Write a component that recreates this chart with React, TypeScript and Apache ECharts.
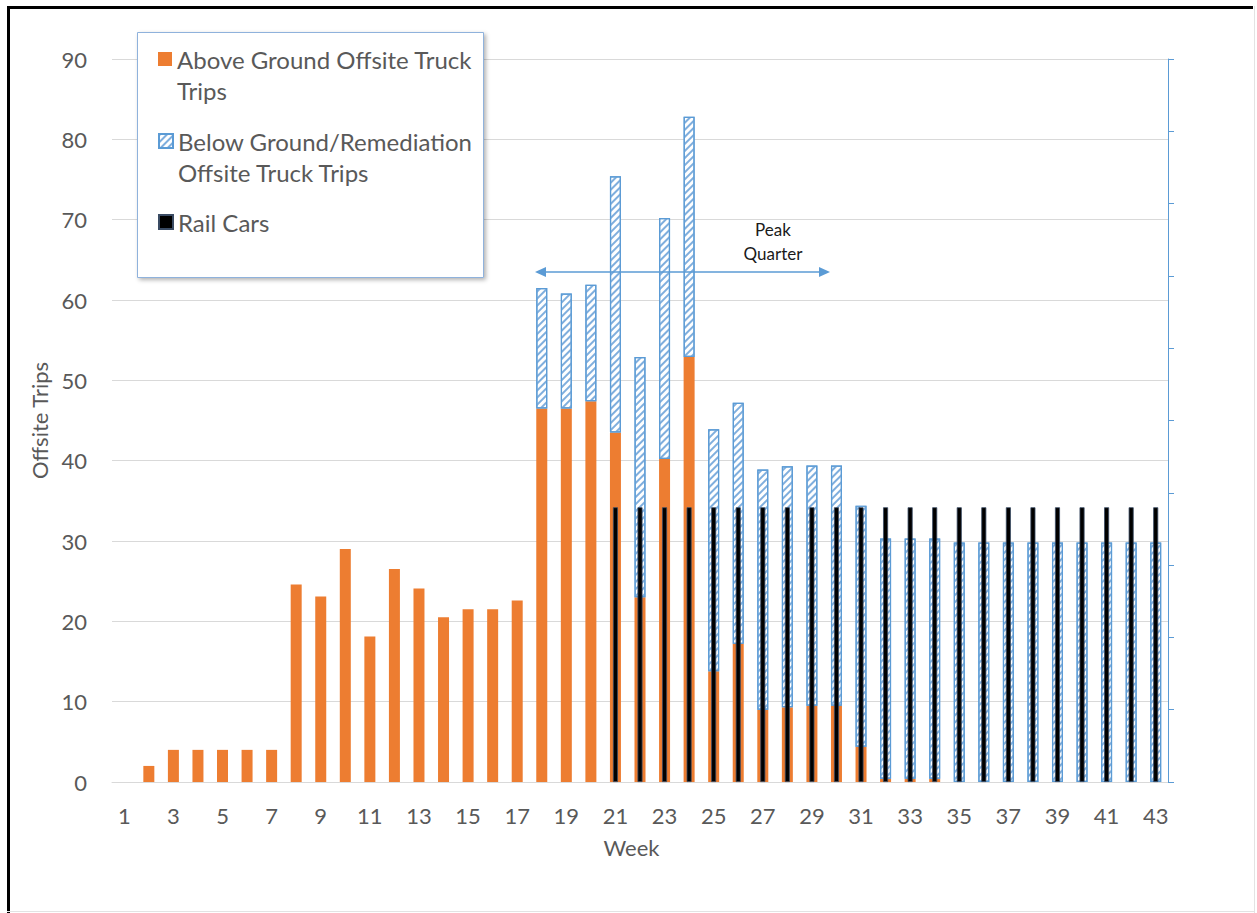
import React, { useEffect, useRef } from "react";
import * as echarts from "echarts";

// Week numbers along the category axis
const weeks = [
  "1", "2", "3", "4", "5", "6", "7", "8", "9", "10",
  "11", "12", "13", "14", "15", "16", "17", "18", "19", "20",
  "21", "22", "23", "24", "25", "26", "27", "28", "29", "30",
  "31", "32", "33", "34", "35", "36", "37", "38", "39", "40",
  "41", "42", "43",
];

// Above ground offsite truck trips per week (null = no bar)
const aboveGround = [
  null, 2, 4, 4, 4, 4, 4, 24.6, 23.1, 29.0,
  18.1, 26.5, 24.1, 20.5, 21.5, 21.5, 22.6, 46.5, 46.5, 47.4,
  43.5, 23.0, 40.2, 52.9, 13.8, 17.2, 9.0, 9.3, 9.5, 9.5,
  4.4, 0.4, 0.4, 0.4, null, null, null, null, null, null,
  null, null, null,
];

// Below ground / remediation offsite truck trips per week, stacked on top
const belowGround = [
  null, null, null, null, null, null, null, null, null, null,
  null, null, null, null, null, null, null, 15.0, 14.3, 14.5,
  31.9, 29.9, 30.0, 29.9, 30.1, 30.0, 29.9, 30.0, 29.9, 29.9,
  30.0, 29.9, 29.9, 29.9, 29.8, 29.8, 29.8, 29.8, 29.8, 29.8,
  29.8, 29.8, 29.8,
];

// Rail cars per week (secondary axis)
const railCars = [
  null, null, null, null, null, null, null, null, null, null,
  null, null, null, null, null, null, null, null, null, null,
  3.8, 3.8, 3.8, 3.8, 3.8, 3.8, 3.8, 3.8, 3.8, 3.8,
  3.8, 3.8, 3.8, 3.8, 3.8, 3.8, 3.8, 3.8, 3.8, 3.8,
  3.8, 3.8, 3.8,
];

const seriesNames = [
  "Above Ground Offsite Truck Trips",
  "Below Ground/Remediation Offsite Truck Trips",
  "Rail Cars",
];

// Legend text as it wraps inside the legend box
const legendLines = [
  ["Above Ground Offsite Truck", "Trips"],
  ["Below Ground/Remediation", "Offsite Truck Trips"],
  ["Rail Cars"],
];

const FONT = "Lato, 'Open Sans', sans-serif";
const GREY_TEXT = "#595959";
const ORANGE = "#ED7D31";
const BLUE = "#5B9BD5";

export default function App() {
  const ref = useRef<HTMLDivElement | null>(null);

  useEffect(() => {
    if (!ref.current) return;
    const chart = echarts.init(ref.current, undefined, { renderer: "svg" });

    const lineH = 31;
    const legendCentres = [59, 141, 222];
    const legends = seriesNames.map((name, i) => {
      const lines = legendLines[i];
      // a leading blank line keeps the icon level with the first text line
      const text = lines.length > 1 ? "\n" + lines.join("\n") : lines[0];
      const blockH = (lines.length > 1 ? 3 : 1) * lineH;
      return {
        data: [{ name, icon: "rect" }],
        orient: "vertical",
        left: 158,
        top: legendCentres[i] - blockH / 2,
        padding: 0,
        itemWidth: 14,
        itemHeight: 14,
        selectedMode: false,
        formatter: () => text,
        textStyle: {
          color: GREY_TEXT,
          fontFamily: FONT,
          fontSize: 24,
          lineHeight: lineH,
        },
        z: 4,
      };
    });

    chart.setOption({
      animation: false,
      backgroundColor: "#ffffff",
      textStyle: { fontFamily: FONT },
      grid: { left: 112, right: 89, top: 59, bottom: 131 },
      legend: legends,
      xAxis: [
        {
          type: "category",
          data: weeks,
          axisTick: { show: false },
          axisLine: { lineStyle: { color: "#D9D9D9", width: 1 } },
          axisLabel: {
            interval: 1,
            color: GREY_TEXT,
            fontSize: 22,
            fontFamily: FONT,
            margin: 22,
          },
          name: "Week",
          nameLocation: "middle",
          nameGap: 54,
          nameTextStyle: {
            color: GREY_TEXT,
            fontSize: 22,
            fontFamily: FONT,
            padding: [0, 17, 0, 0],
          },
        },
        {
          type: "category",
          data: weeks,
          show: false,
          position: "bottom",
        },
      ],
      yAxis: [
        {
          type: "value",
          min: 0,
          max: 90,
          interval: 10,
          axisLine: { show: false },
          axisTick: { show: false },
          axisLabel: {
            color: GREY_TEXT,
            fontSize: 22,
            fontFamily: FONT,
            margin: 25,
          },
          splitLine: { lineStyle: { color: "#D9D9D9", width: 1 } },
          name: "Offsite Trips",
          nameLocation: "middle",
          nameGap: 57,
          nameTextStyle: {
            color: GREY_TEXT,
            fontSize: 22,
            fontFamily: FONT,
          },
        },
        {
          type: "value",
          min: 0,
          max: 10,
          interval: 1,
          position: "right",
          axisLine: { show: true, lineStyle: { color: BLUE, width: 1 } },
          axisTick: { show: true, length: 6, lineStyle: { color: BLUE } },
          axisLabel: { show: false },
          splitLine: { show: false },
        },
      ],
      series: [
        {
          name: seriesNames[0],
          type: "bar",
          stack: "trucks",
          xAxisIndex: 0,
          yAxisIndex: 0,
          barWidth: 11,
          data: aboveGround,
          itemStyle: { color: ORANGE },
        },
        {
          name: seriesNames[1],
          type: "bar",
          stack: "trucks",
          xAxisIndex: 0,
          yAxisIndex: 0,
          barWidth: 11,
          data: belowGround,
          itemStyle: {
            color: "#ffffff",
            borderColor: BLUE,
            borderWidth: 1.2,
            decal: {
              symbol: "rect",
              color: "#7FAEDD",
              dashArrayX: [1, 0],
              dashArrayY: [1.5, 2.5],
              rotation: -Math.PI / 4,
              symbolSize: 1,
            },
          },
        },
        {
          name: seriesNames[2],
          type: "bar",
          xAxisIndex: 1,
          yAxisIndex: 1,
          barWidth: 5,
          data: railCars,
          itemStyle: { color: "#000000", borderColor: "#3A4B63", borderWidth: 0.8 },
          z: 3,
        },
      ],
      graphic: [
        // page frame
        { type: "rect", shape: { x: 7, y: 6, width: 3, height: 907 }, style: { fill: "#000" }, z: 10, silent: true },
        { type: "rect", shape: { x: 7, y: 6, width: 1246, height: 3 }, style: { fill: "#000" }, z: 10, silent: true },
        { type: "line", shape: { x1: 1254.5, y1: 6, x2: 1254.5, y2: 913 }, style: { stroke: "#E3E3E3", lineWidth: 1 }, z: 10, silent: true },
        { type: "line", shape: { x1: 7, y1: 911.5, x2: 1255, y2: 911.5 }, style: { stroke: "#E3E3E3", lineWidth: 1 }, z: 10, silent: true },
        // legend box
        {
          type: "rect",
          shape: { x: 137.5, y: 32.5, width: 346, height: 245 },
          style: {
            fill: "#ffffff",
            stroke: "#8FB2DC",
            lineWidth: 1,
            shadowBlur: 4,
            shadowOffsetX: 2,
            shadowOffsetY: 2,
            shadowColor: "rgba(0,0,0,0.3)",
          },
          z: 1,
          silent: true,
        },
        // peak quarter arrow
        { type: "line", shape: { x1: 543, y1: 272, x2: 822, y2: 272 }, style: { stroke: BLUE, lineWidth: 1.5 }, z: 6, silent: true },
        { type: "polygon", shape: { points: [[535, 272], [546, 267], [546, 277]] }, style: { fill: BLUE }, z: 6, silent: true },
        { type: "polygon", shape: { points: [[830, 272], [819, 267], [819, 277]] }, style: { fill: BLUE }, z: 6, silent: true },
        {
          type: "text",
          x: 773,
          y: 241,
          style: {
            text: "Peak\nQuarter",
            fill: "#1a1a1a",
            fontSize: 17,
            fontFamily: FONT,
            lineHeight: 24,
            align: "center",
            verticalAlign: "middle",
          },
          z: 6,
          silent: true,
        },
      ],
    });

    return () => chart.dispose();
  }, []);

  return (
    <div
      ref={ref}
      style={{ position: "fixed", left: 0, top: 0, width: 1257, height: 913 }}
    />
  );
}
